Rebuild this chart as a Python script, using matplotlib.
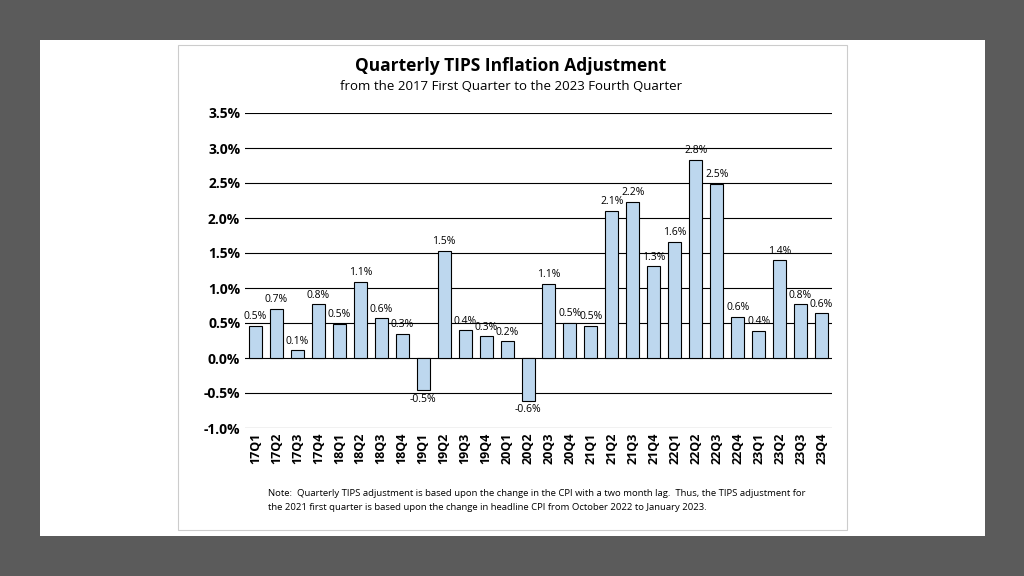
import matplotlib
matplotlib.use("Agg")
import matplotlib.pyplot as plt
from matplotlib.patches import Rectangle

quarters = ["17Q1","17Q2","17Q3","17Q4","18Q1","18Q2","18Q3","18Q4","19Q1","19Q2","19Q3","19Q4",
            "20Q1","20Q2","20Q3","20Q4","21Q1","21Q2","21Q3","21Q4","22Q1","22Q2","22Q3","22Q4",
            "23Q1","23Q2","23Q3","23Q4"]
values = [0.46,0.70,0.11,0.77,0.49,1.09,0.57,0.35,-0.46,1.53,0.40,0.31,
          0.24,-0.61,1.06,0.50,0.46,2.10,2.23,1.31,1.66,2.83,2.49,0.59,
          0.39,1.40,0.77,0.64]
labels = ["0.5%","0.7%","0.1%","0.8%","0.5%","1.1%","0.6%","0.3%","-0.5%","1.5%","0.4%","0.3%",
          "0.2%","-0.6%","1.1%","0.5%","0.5%","2.1%","2.2%","1.3%","1.6%","2.8%","2.5%","0.6%",
          "0.4%","1.4%","0.8%","0.6%"]
yticks = [-1.0,-0.5,0.0,0.5,1.0,1.5,2.0,2.5,3.0,3.5]

plt.rcParams['font.family'] = ['Open Sans', 'DejaVu Sans']
fig = plt.figure(figsize=(10.24,5.76), dpi=100)
fig.patch.set_facecolor('#5b5b5b')
fig.patches.append(Rectangle((40/1024, 1-536/576), 945/1024, 496/576, transform=fig.transFigure,
                             facecolor='white', edgecolor='none', zorder=-2))
fig.patches.append(Rectangle((178/1024, 1-530/576), 669/1024, 485/576, transform=fig.transFigure,
                             facecolor='white', edgecolor='#cccccc', lw=0.8, zorder=-1))

ax = fig.add_axes([245/1024, 1-428/576, 587/1024, 315/576])
ax.set_zorder(2)
ax.patch.set_alpha(0)
x = range(len(quarters))
ax.bar(x, values, width=0.62, color='#bdd7ee', edgecolor='black', linewidth=0.8, zorder=3)
for i, (v, l) in enumerate(zip(values, labels)):
    ax.text(i, v + (0.05 if v >= 0 else -0.05), l, ha='center',
            va='bottom' if v >= 0 else 'top', fontsize=7.5, zorder=4)
ax.set_ylim(-1.0, 3.5)
ax.set_xlim(-0.5, len(quarters) - 0.5)
ax.set_yticks(yticks)
ax.set_yticklabels([f"{t:.1f}%" for t in yticks], fontsize=10, fontweight='bold')
ax.set_xticks(list(x))
ax.set_xticklabels(quarters, rotation=90, fontsize=9, fontweight='bold')
ax.grid(axis='y', color='black', lw=0.8, zorder=0)
ax.set_axisbelow(True)
for s in ax.spines.values():
    s.set_visible(False)
ax.tick_params(length=0)

fig.text(511/1024, 1-66/576, "Quarterly TIPS Inflation Adjustment", ha='center', va='center',
         fontsize=12.5, fontweight='bold')
fig.text(511/1024, 1-87/576, "from the 2017 First Quarter to the 2023 Fourth Quarter", ha='center',
         va='center', fontsize=9.5)
fig.text(268/1024, 1-494/576, "Note:  Quarterly TIPS adjustment is based upon the change in the CPI with a two month lag.  Thus, the TIPS adjustment for",
         ha='left', va='center', fontsize=6.8)
fig.text(268/1024, 1-508/576, "the 2021 first quarter is based upon the change in headline CPI from October 2022 to January 2023.",
         ha='left', va='center', fontsize=6.8)
fig.savefig("out.png", dpi=100, facecolor=fig.get_facecolor())
